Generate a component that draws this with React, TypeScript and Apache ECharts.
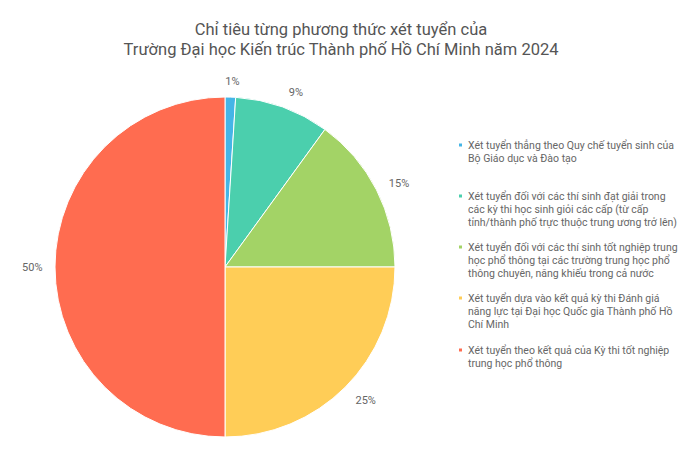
import { useEffect, useRef } from 'react';
import * as echarts from 'echarts';

// tên các phương thức (khớp với chú thích)
const methods = [
  'Xét tuyển thẳng theo Quy chế tuyển sinh của Bộ Giáo dục và Đào tạo',
  'Xét tuyển đối với các thí sinh đạt giải trong các kỳ thi học sinh giỏi các cấp (từ cấp tỉnh/thành phố trực thuộc trung ương trở lên)',
  'Xét tuyển đối với các thí sinh tốt nghiệp trung học phổ thông tại các trường trung học phổ thông chuyên, năng khiếu trong cả nước',
  'Xét tuyển dựa vào kết quả kỳ thi Đánh giá năng lực tại Đại học Quốc gia Thành phố Hồ Chí Minh',
  'Xét tuyển theo kết quả của Kỳ thi tốt nghiệp trung học phổ thông',
];

// chú thích đã ngắt dòng như ảnh gốc
const legendLines = [
  ['Xét tuyển thẳng theo Quy chế tuyển sinh của', 'Bộ Giáo dục và Đào tạo'],
  ['Xét tuyển đối với các thí sinh đạt giải trong', 'các kỳ thi học sinh giỏi các cấp (từ cấp', 'tỉnh/thành phố trực thuộc trung ương trở lên)'],
  ['Xét tuyển đối với các thí sinh tốt nghiệp trung', 'học phổ thông tại các trường trung học phổ', 'thông chuyên, năng khiếu trong cả nước'],
  ['Xét tuyển dựa vào kết quả kỳ thi Đánh giá', 'năng lực tại Đại học Quốc gia Thành phố Hồ', 'Chí Minh'],
  ['Xét tuyển theo kết quả của Kỳ thi tốt nghiệp', 'trung học phổ thông'],
];

// tỉ lệ chỉ tiêu (%)
const shares = [1, 9, 15, 25, 50];

const colors = ['#45b5e6', '#4bcfad', '#a3d366', '#ffcd57', '#ff6c50'];

// tâm dòng đầu của từng mục chú thích
const legendRowY = [145, 196, 247, 298, 350];

// độ dài đường dẫn / khoảng cách nhãn cho từng lát (đường dẫn ẩn)
const labelLen = [16, 15.5, 15, 19.5, 15];
const labelDist = [-5.5, 1, -1, -3.5, -2.5];

const LINE_H = 13;

const App = () => {
  const chartRef = useRef<HTMLDivElement>(null);

  useEffect(() => {
    if (!chartRef.current) return;
    const chart = echarts.init(chartRef.current, undefined, { renderer: 'svg' });

    // mỗi mục chú thích là một legend riêng để canh ô màu theo dòng đầu
    const legends = methods.map((name, i) => {
      const n = legendLines[i].length;
      const pad = '\n'.repeat(n - 1);
      return {
        data: [name],
        orient: 'vertical' as const,
        left: 457,
        top: legendRowY[i] - ((2 * n - 1) * LINE_H) / 2,
        padding: 0,
        icon: 'rect',
        itemWidth: 5,
        itemHeight: 5,
        selectedMode: false,
        formatter: () => pad + legendLines[i].join('\n'),
        textStyle: {
          fontFamily: 'Roboto',
          fontSize: 10.5,
          lineHeight: LINE_H,
          color: '#666',
        },
      };
    });

    chart.setOption({
      animation: false,
      color: colors,
      textStyle: { fontFamily: 'Roboto' },
      title: {
        text: 'Chỉ tiêu từng phương thức xét tuyển của\nTrường Đại học Kiến trúc Thành phố Hồ Chí Minh năm 2024',
        left: 336,
        top: 14,
        textAlign: 'center',
        textStyle: {
          fontFamily: 'Roboto',
          fontSize: 16.5,
          fontWeight: 'normal',
          lineHeight: 20,
          color: '#555',
        },
      },
      legend: legends,
      series: [
        {
          type: 'pie',
          center: [225, 267],
          radius: 170,
          startAngle: 90,
          clockwise: true,
          avoidLabelOverlap: false,
          itemStyle: { borderColor: '#fff', borderWidth: 1 },
          label: {
            show: true,
            position: 'outside',
            formatter: '{c}%',
            fontFamily: 'Roboto',
            fontSize: 11,
            color: '#666',
          },
          labelLine: { show: false, length: 15, length2: 0 },
          emphasis: { disabled: true },
          data: methods.map((name, i) => ({
            name,
            value: shares[i],
            label: { distanceToLabelLine: labelDist[i] },
            labelLine: { show: false, length: labelLen[i], length2: 0 },
          })),
        },
      ],
    });

    return () => {
      chart.dispose();
    };
  }, []);

  return (
    <div
      ref={chartRef}
      style={{ position: 'absolute', left: 0, top: 0, width: '700px', height: '476px', background: '#fff' }}
    />
  );
};

export default App;
